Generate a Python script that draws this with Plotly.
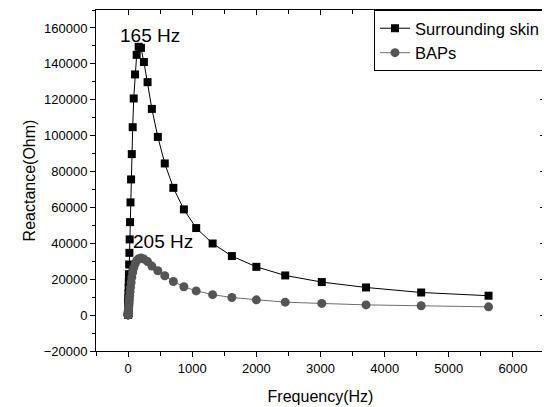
import plotly.graph_objects as go

# Frequency (Hz) of each measurement point
freq = [0.21, 0.26, 0.32, 0.39, 0.48, 0.59, 0.73, 0.9,
        1.1, 1.35, 1.66, 2.0, 2.5, 3.1, 3.8, 4.7, 5.8, 7.2, 8.9, 11,
        13.5, 16.6, 20.5, 25, 31, 38, 47, 58, 72, 88, 109, 134, 165,
        201, 247, 304, 371, 464, 572, 706, 870, 1062, 1318, 1618, 2000,
        2450, 3020, 3710, 4570, 5620]

# Reactance (Ohm), surrounding skin
skin = [300, 380, 470, 590, 730, 900, 1100, 1400,
        1900, 2300, 2800, 3500, 4300, 5300, 6500, 8000, 9900, 12200, 15000, 18500,
        22800, 28200, 34700, 42200, 51800, 62800, 75600, 89700, 104700, 120700,
        134100, 145000, 149500,
        148900, 141000, 129800, 114900, 99300, 84500, 70900, 58900, 48500, 39900,
        32900, 26900, 22100, 18400, 15400, 12600, 10800]

# Reactance (Ohm), BAPs
baps = [100, 120, 150, 190, 230, 290, 360, 440,
        540, 660, 800, 980, 1200, 1480, 1800, 2200, 2700, 3300, 4000, 4900,
        6000, 7300, 8900, 10800, 13000, 15500, 18200, 21000, 23800, 26300,
        28500, 30300, 31400,
        31800, 31200, 29800, 27300, 24700, 21900, 18700, 15800, 13500, 11400,
        9800, 8500, 7200, 6500, 5700, 5200, 4600]

series_names = ["Surrounding skin", "BAPs"]
peak_labels = ["165 Hz", "205 Hz"]

FONT = "Liberation Sans, Arial, sans-serif"

fig = go.Figure()
fig.add_trace(go.Scatter(
    x=freq, y=skin, name=series_names[0], mode="lines+markers",
    line=dict(color="black", width=1),
    marker=dict(symbol="square", size=8, color="black", line=dict(width=0)),
))
fig.add_trace(go.Scatter(
    x=freq, y=baps, name=series_names[1], mode="lines+markers",
    line=dict(color="rgb(110,110,110)", width=1),
    marker=dict(symbol="circle", size=9, color="rgb(85,85,85)", line=dict(width=0)),
))
# invisible trace to activate the mirrored (top/right) axes
fig.add_trace(go.Scatter(
    x=[0], y=[0], xaxis="x2", yaxis="y2", mode="markers",
    marker=dict(opacity=0), showlegend=False, hoverinfo="skip",
))

fig.add_annotation(x=340, y=155700, text=peak_labels[0], showarrow=False,
                   font=dict(size=19, color="black", family=FONT))
fig.add_annotation(x=541, y=41200, text=peak_labels[1], showarrow=False,
                   font=dict(size=19, color="black", family=FONT))

xr = [-500, 6500]
yr = [-20000, 170000]

# page body has an 8px default margin, so the figure is sized/offset accordingly
fig.update_layout(
    width=542, height=399,
    margin=dict(l=88, r=5, t=2, b=56),
    paper_bgcolor="white", plot_bgcolor="white",
    font=dict(family=FONT, color="black"),
    showlegend=True,
    legend=dict(x=1, y=1, xanchor="right", yanchor="top",
                bordercolor="black", borderwidth=1, bgcolor="white",
                font=dict(size=16.5, family=FONT), itemwidth=30,
                tracegroupgap=0),
    xaxis=dict(
        range=xr, tickmode="linear", tick0=0, dtick=1000, tickformat="d",
        ticks="outside", ticklen=5, tickwidth=1, tickcolor="black",
        minor=dict(dtick=500, ticks="outside", ticklen=4, tickcolor="black"),
        showline=True, linecolor="black", linewidth=1,
        showgrid=False, zeroline=False, automargin=False,
        tickfont=dict(size=13),
        title=dict(text="Frequency(Hz)", font=dict(size=16), standoff=16),
    ),
    yaxis=dict(
        range=yr, tickmode="linear", tick0=0, dtick=20000, tickformat="d",
        ticks="outside", ticklen=5, tickwidth=1, tickcolor="black",
        minor=dict(dtick=10000, ticks="outside", ticklen=3, tickcolor="black"),
        showline=True, linecolor="black", linewidth=1,
        showgrid=False, zeroline=False, automargin=False,
        tickfont=dict(size=13),
        title=dict(text="Reactance(Ohm)", font=dict(size=16), standoff=4),
    ),
    xaxis2=dict(
        range=xr, overlaying="x", side="top", anchor="y",
        tickmode="linear", tick0=0, dtick=1000,
        ticks="inside", ticklen=5, tickcolor="black",
        minor=dict(dtick=500, ticks="inside", ticklen=4, tickcolor="black"),
        showticklabels=False, showline=True, linecolor="black", linewidth=1,
        showgrid=False, zeroline=False, automargin=False,
    ),
    yaxis2=dict(
        range=yr, overlaying="y", side="right", anchor="x",
        tickmode="linear", tick0=0, dtick=20000,
        ticks="inside", ticklen=5, tickcolor="black",
        minor=dict(dtick=10000, ticks="inside", ticklen=3, tickcolor="black"),
        showticklabels=False, showline=True, linecolor="black", linewidth=1,
        showgrid=False, zeroline=False, automargin=False,
    ),
)

fig.write_html("out.html")
